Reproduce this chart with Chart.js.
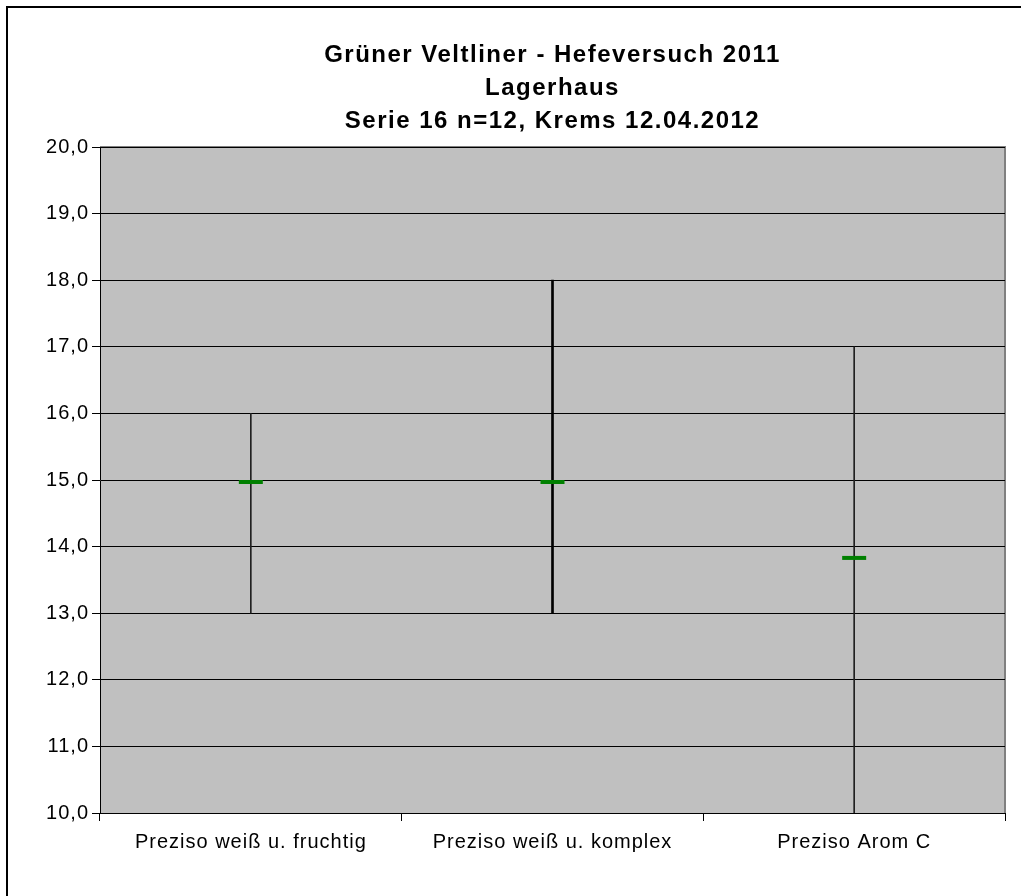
<!DOCTYPE html>
<html>
<head>
<meta charset="utf-8">
<script src="https://cdn.jsdelivr.net/npm/chart.js@4/dist/chart.umd.min.js"></script>
<style>
  html, body { margin: 0; padding: 0; background: #fff; }
  canvas { display: block; }
</style>
</head>
<body>
<canvas id="chart" width="1021" height="896"></canvas>
<script>
// chart data
const titleLines = ['Grüner Veltliner - Hefeversuch 2011', 'Lagerhaus', 'Serie 16 n=12, Krems 12.04.2012'];
const categories = ['Preziso weiß u. fruchtig', 'Preziso weiß u. komplex', 'Preziso Arom C'];
const lowValues = [13, 13, 10];
const highValues = [16, 18, 17];
const meanValues = [14.97, 14.97, 13.83];
const yMin = 10, yMax = 20, yStep = 1;

const FONT = '"Liberation Sans", Arial, sans-serif';

// high-low ranges; the middle one is drawn heavier in the original
const thinRanges = categories.map((c, i) => i === 1 ? null : [lowValues[i], highValues[i]]);
const thickRanges = categories.map((c, i) => i === 1 ? [lowValues[i], highValues[i]] : null);

// the original's text is wider spaced than Liberation Sans
const spacing = {
    id: 'spacing',
    beforeLayout(chart) { chart.ctx.letterSpacing = '1px'; },
    beforeDraw(chart) { chart.ctx.letterSpacing = '1px'; }
};

// grey plot area + outer frame + title
const decor = {
    id: 'decor',
    beforeDraw(chart) {
        const { ctx, chartArea: a } = chart;
        ctx.save();
        ctx.fillStyle = '#c0c0c0';
        ctx.fillRect(a.left, a.top, a.right - a.left, a.bottom - a.top);
        ctx.strokeStyle = '#808080';
        ctx.lineWidth = 2;
        ctx.beginPath();
        ctx.moveTo(a.left, a.top);
        ctx.lineTo(a.right, a.top);
        ctx.lineTo(a.right, a.bottom);
        ctx.stroke();
        // outer frame (only left/top visible in the crop)
        ctx.strokeStyle = '#000';
        ctx.lineWidth = 2;
        ctx.beginPath();
        ctx.moveTo(7, 900);
        ctx.lineTo(7, 7);
        ctx.lineTo(1030, 7);
        ctx.stroke();
        ctx.restore();
    },
    afterDraw(chart) {
        const { ctx, chartArea: a } = chart;
        const cx = (a.left + a.right) / 2;
        ctx.save();
        ctx.fillStyle = '#000';
        ctx.font = 'bold 24px ' + FONT;
        ctx.letterSpacing = '1.5px';
        ctx.textAlign = 'center';
        ctx.textBaseline = 'middle';
        titleLines.forEach((t, i) => ctx.fillText(t, cx, 55 + i * 33));
        ctx.restore();
    }
};

new Chart(document.getElementById('chart'), {
    type: 'bar',
    data: {
        labels: categories,
        datasets: [
            { data: thinRanges, backgroundColor: '#202020', barThickness: 1, grouped: false, order: 2 },
            { data: thickRanges, backgroundColor: '#000', barThickness: 2, grouped: false, order: 2 },
            {
                type: 'line', data: meanValues, showLine: false, order: 1,
                pointStyle: 'line', pointRadius: 12, pointBorderWidth: 4,
                borderColor: '#008000', backgroundColor: '#008000'
            }
        ]
    },
    options: {
        responsive: false,
        animation: false,
        events: [],
        layout: { padding: { top: 147, right: 15, bottom: 0, left: 0 } },
        plugins: { legend: { display: false }, tooltip: { enabled: false }, title: { display: false } },
        scales: {
            x: {
                grid: { offset: true, drawOnChartArea: false, color: '#000', tickLength: 8 },
                border: { color: '#000', width: 1 },
                ticks: { color: '#000', font: { family: FONT, size: 20 }, padding: 9, maxRotation: 0 },
                afterFit(scale) { scale.height = 83; }
            },
            y: {
                min: yMin, max: yMax,
                grid: { color: '#000', tickLength: 8 },
                border: { color: '#000', width: 1 },
                ticks: {
                    stepSize: yStep, color: '#000', padding: 3,
                    font: { family: FONT, size: 20 },
                    callback: v => v.toFixed(1).replace('.', ',')
                },
                afterFit(scale) { scale.width = 100; }
            }
        }
    },
    plugins: [spacing, decor]
});
</script>
</body>
</html>
